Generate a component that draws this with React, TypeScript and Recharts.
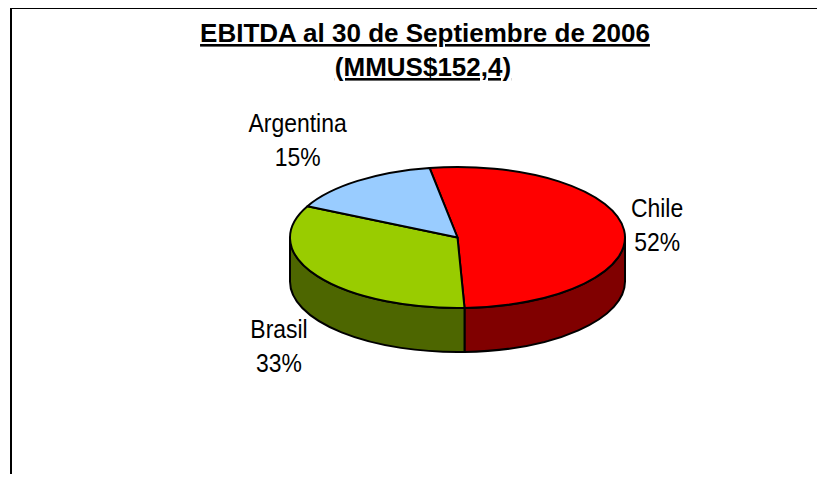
import { Pie, PieChart } from "recharts";

const regions = ["Chile", "Brasil", "Argentina"];
const shares = [52, 33, 15];
const titleLines = ["EBITDA al 30 de Septiembre de 2006", "(MMUS$152,4)"];

const topColors = ["#ff0000", "#99cc00", "#99ccff"];
const sideColors = ["#800000", "#4d6600", "#4d6680"];

const data = regions.map((name, i) => ({ name, value: shares[i] }));

// 3d look: the pie is squashed into an ellipse and given a wall
const TILT = 70.5 / 167.5;
const DEPTH = 44;
const rad = Math.PI / 180;

const labelFont = '"Liberation Sans", Arial, sans-serif';
const titleFont = '"Liberation Sans", Arial, sans-serif';

// where excel dropped the data labels, relative to the rim at mid angle
const labelNudge: Record<string, [number, number]> = {
  Chile: [33, -13],
  Brasil: [-38, 62],
  Argentina: [-60, -49],
};

function rimPoint(cx: number, cy: number, r: number, angle: number, drop = 0) {
  return [cx + r * Math.cos(angle * rad), cy - r * TILT * Math.sin(angle * rad) + drop];
}

function renderSide(props: any) {
  const { cx, cy, outerRadius: r, startAngle, endAngle, index } = props;
  const ry = r * TILT;
  const from = Math.min(startAngle, endAngle);
  const to = Math.max(startAngle, endAngle);
  const walls = [];
  // only the front half (angles -180..0) shows its wall
  for (let k = -2; k <= 2; k++) {
    const lo = Math.max(from, -180 + 360 * k);
    const hi = Math.min(to, 360 * k);
    if (hi - lo < 0.01) continue;
    const [x1, y1] = rimPoint(cx, cy, r, lo);
    const [x2, y2] = rimPoint(cx, cy, r, hi);
    walls.push(
      <path
        key={k}
        d={`M${x1},${y1} A${r},${ry} 0 0 0 ${x2},${y2} L${x2},${y2 + DEPTH} A${r},${ry} 0 0 1 ${x1},${y1 + DEPTH} Z`}
        fill={sideColors[index]}
        stroke="#000"
        strokeWidth={2}
        strokeLinejoin="round"
      />
    );
  }
  return <g>{walls}</g>;
}

function renderTop(props: any) {
  const { cx, cy, outerRadius: r, startAngle, endAngle, midAngle, index, name, value } = props;
  const ry = r * TILT;
  const [x1, y1] = rimPoint(cx, cy, r, startAngle);
  const [x2, y2] = rimPoint(cx, cy, r, endAngle);
  const large = Math.abs(startAngle - endAngle) > 180 ? 1 : 0;
  const [mx, my] = rimPoint(cx, cy, r, midAngle);
  const [dx, dy] = labelNudge[name] ?? [0, 0];
  return (
    <g>
      <path
        d={`M${cx},${cy} L${x1},${y1} A${r},${ry} 0 ${large} 1 ${x2},${y2} Z`}
        fill={topColors[index]}
        stroke="#000"
        strokeWidth={2}
        strokeLinejoin="round"
      />
      {/* narrow look of the original labels */}
      <text
        transform={`translate(${mx + dx},${my + dy}) scale(0.9,1)`}
        textAnchor="middle"
        fontFamily={labelFont}
        fontSize={25.5}
        fill="#000"
      >
        <tspan x={0} y={0}>{name}</tspan>
        <tspan x={0} y={34}>{`${value}%`}</tspan>
      </text>
    </g>
  );
}

export default function App() {
  return (
    <div style={{ position: "relative", width: 825, height: 482, margin: -8, overflow: "hidden", background: "#fff" }}>
      <div
        style={{
          position: "absolute",
          left: 10,
          top: 7,
          width: 900,
          height: 600,
          borderLeft: "2px solid #000",
          borderTop: "2px solid #000",
        }}
      />
      <svg width={825} height={482} style={{ position: "absolute", left: 0, top: 0 }}>
        <text x={425} y={42} textAnchor="middle" fontFamily={titleFont} fontWeight="bold" fontSize={26} textDecoration="underline">
          {titleLines[0]}
        </text>
        <text x={423} y={76} textAnchor="middle" fontFamily={titleFont} fontWeight="bold" fontSize={26} textDecoration="underline">
          {titleLines[1]}
        </text>
      </svg>
      <div style={{ position: "absolute", left: 0, top: 0 }}>
        <PieChart width={825} height={482} margin={{ top: 0, right: 0, bottom: 0, left: 0 }}>
          <Pie
            data={data}
            dataKey="value"
            nameKey="name"
            cx={457.5}
            cy={237.5}
            outerRadius={167.5}
            startAngle={99.6}
            endAngle={-260.4}
            fill="none"
            stroke="none"
            label={renderSide}
            labelLine={false}
            isAnimationActive={false}
          />
          <Pie
            data={data}
            dataKey="value"
            nameKey="name"
            cx={457.5}
            cy={237.5}
            outerRadius={167.5}
            startAngle={99.6}
            endAngle={-260.4}
            fill="none"
            stroke="none"
            label={renderTop}
            labelLine={false}
            isAnimationActive={false}
          />
        </PieChart>
      </div>
    </div>
  );
}
